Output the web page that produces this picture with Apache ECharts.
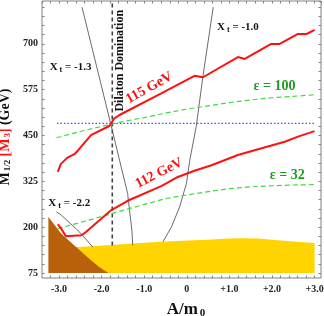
<!DOCTYPE html>
<html><head><meta charset="utf-8">
<script src="https://cdn.jsdelivr.net/npm/echarts@6/dist/echarts.min.js"></script>
<style>html,body{margin:0;padding:0;background:#fff}#c{width:324px;height:316px}</style>
</head><body><div id="c"></div>
<script>
// ---- tick labels ----
const yTickLabels = [75, 200, 325, 450, 575, 700];
const xTickValues = [-3, -2, -1, 0, 1, 2, 3];
const xTickLabels = ['-3.0', '-2.0', '-1.0', '0', '+1.0', '+2.0', '+3.0'];

// ---- Higgs mass contours (red) ----
const h115A = [-3.03,-2.96,-2.81,-2.64,-2.55,-2.25,-1.82,-1.70,-1.58,-0.60,0.18,0.38,1.20,1.36,1.98,2.18,2.61,2.81,3.0];
const h115M = [351,372,389,399,410,451,476,497,506,565,613,609,664,659,700,700,727,727,738];
const h112A = [-3.03,-2.95,-2.84,-2.48,-2.41,-1.78,-1.39,-0.60,-0.21,0.18,0.58,1.20,1.59,2.30,2.61,3.0];
const h112M = [208,196,175,178,183,246,272,312,337,354,369,397,410,433,447,462];

// ---- epsilon contours (green dashed) ----
const e100A = [-3.06,-2.5,-2,-1.5,-1,-0.5,0,0.5,1,1.5,2,2.5,3];
const e100M = [444,461,475,488,499,511,522,531,540,547,553,557,561];
const e32A = [-3.03,-2.5,-2,-1.5,-1,-0.5,0,0.5,1,1.5,2,2.5,3];
const e32M = [196,213,229,246,262,278,288,297,305,310,313,315,316];

// ---- X_t contours (thin black) ----
const xt13A = [-2.46,-1.78,-1.58,-1.39,-1.29,-1.27];
const xt13M = [800,479,383,292,192,151];
const xt10A = [0.62,0.38,0.22,0.07,-0.01,-0.17,-0.36,-0.56];
const xt10M = [800,613,474,383,319,255,201,160];
const xt22A = [-3.06,-2.95,-2.60,-2.45,-2.21];
const xt22M = [242,233,196,178,146];

// ---- dilaton domination line, blue dotted line ----
const dilA = [-1.75,-1.75];
const dilM = [150,817];
const blueA = [-3.05,3.0];
const blueM = [483,483];

// ---- excluded regions ----
const yellowA = [-2.6,-2.52,-0.61,0.18,0.5,0.97,1.3,1.67,2.14,2.5,3.0];
const yellowM = [146,146,160,164,166,169,170,169,164,161,157];
const brownA = [-3.25,-2.95,-2.6,-2.29,-2.05,-1.84];
const brownM = [228,183,146,114,91,75];

// ---- annotations (data coordinates) ----
const annXt = [
  {a:-2.73, m:636, v:'-1.3'},
  {a:1.20, m:745, v:'-1.0'},
  {a:-2.76, m:265, v:'-2.2'}
];
const annHiggs = [{a:-0.88, m:580, t:'115 GeV', rot:29}, {a:-0.65, m:347, t:'112 GeV', rot:27}];
const annEps = [{a:2.06, m:583, t:'ε = 100'}, {a:2.36, m:342, t:'ε = 32'}];
const annDil = {a:-1.58, m:654, t:'Dilaton Domination'};

function pairs(a, m){ return a.map((v,i)=>[v, m[i]]); }
const SERIF = 'Liberation Serif';

const chart = echarts.init(document.getElementById('c'), null, {renderer:'canvas'});
function ln(data, color, width, type, z){
  return {type:'line', xAxisIndex:1, yAxisIndex:1, data, symbol:'none', silent:true, z:z||3,
    lineStyle:{color, width, type:type||'solid'}};
}
function area(data, color, z){
  return {type:'line', xAxisIndex:1, yAxisIndex:1, data, symbol:'none', silent:true, z:z,
    lineStyle:{opacity:0, width:0}, areaStyle:{color, opacity:1, origin:'start'}};
}
const xFmt = v => { const i = xTickValues.findIndex(t => Math.abs(t - v) < 1e-6); return i >= 0 ? xTickLabels[i] : ''; };
const yFmt = v => yTickLabels.some(t => Math.abs(t - v) < 1e-6) ? String(Math.round(v)) : '';
const tickStyle = {inside:true, length:2.5, lineStyle:{color:'#808080', width:1}};
const noLine = {show:false, onZero:false};

chart.setOption({
  animation:false,
  grid:[
    {left:42, top:1, right:3, bottom:38, show:true, borderColor:'#808080', borderWidth:1, backgroundColor:'rgba(0,0,0,0)', outerBoundsMode:'none', containLabel:false},
    {left:42, top:1, right:3, bottom:43, outerBoundsMode:'none', containLabel:false}
  ],
  xAxis:[
    {gridIndex:0, type:'value', show:false, min:0, max:1, axisLine:noLine},
    {gridIndex:1, type:'value', position:'bottom', offset:5, min:-3.4, max:3.15, interval:0.2,
      axisLine:noLine, axisTick:tickStyle, splitLine:{show:false},
      axisLabel:{formatter:xFmt, fontFamily:SERIF, fontWeight:'bold', fontSize:10, color:'#222', margin:6, showMinLabel:false, showMaxLabel:false},
      name:'{n|A/m}{s|0}', nameLocation:'middle', nameGap:22,
      nameTextStyle:{padding:[0,0,0,9], rich:{
        n:{fontFamily:SERIF, fontWeight:'bold', fontSize:17, color:'#111'},
        s:{fontFamily:SERIF, fontWeight:'bold', fontSize:11, color:'#111', padding:[8,0,0,2]}}}},
    {gridIndex:1, type:'value', position:'top', min:-3.4, max:3.15, interval:0.2,
      axisLine:noLine, axisTick:tickStyle, splitLine:{show:false}, axisLabel:{show:false}}
  ],
  yAxis:[
    {gridIndex:0, type:'value', show:false, min:0, max:1, axisLine:noLine},
    {gridIndex:1, type:'value', position:'left', min:75, max:817, interval:25,
      axisLine:noLine, axisTick:tickStyle, splitLine:{show:false},
      axisLabel:{formatter:yFmt, fontFamily:SERIF, fontWeight:'bold', fontSize:10, color:'#222', margin:4, showMaxLabel:false},
      name:'{m|M}{s|1/2} {r|[M}{rs|3}{r|]} {m|(GeV)}', nameLocation:'middle', nameGap:24, nameRotate:90,
      nameTextStyle:{rich:{
        m:{fontFamily:SERIF, fontWeight:'bold', fontSize:14, color:'#111'},
        s:{fontFamily:SERIF, fontWeight:'bold', fontSize:9, color:'#111', padding:[5,0,0,1]},
        r:{fontFamily:SERIF, fontWeight:'bold', fontSize:14, color:'#ff1010'},
        rs:{fontFamily:SERIF, fontWeight:'bold', fontSize:9, color:'#ff1010', padding:[5,0,0,1]}}}},
    {gridIndex:1, type:'value', position:'right', min:75, max:817, interval:25,
      axisLine:noLine, axisTick:tickStyle, splitLine:{show:false}, axisLabel:{show:false}}
  ],
  series:[
    area(pairs(yellowA, yellowM), '#ffd400', 1),
    area(pairs(brownA, brownM), '#b9600b', 2),
    ln(pairs(dilA, dilM), '#444444', 1.6, [4,3], 3),
    ln(pairs(xt13A, xt13M), '#5a5a5a', 0.9, 'solid', 4),
    ln(pairs(xt10A, xt10M), '#5a5a5a', 0.9, 'solid', 4),
    ln(pairs(xt22A, xt22M), '#5a5a5a', 0.9, 'solid', 4),
    ln(pairs(blueA, blueM), '#4a4aff', 1.3, [1.5,2], 5),
    ln(pairs(e100A, e100M), '#3ddc3d', 1.2, [5,3], 5),
    ln(pairs(e32A, e32M), '#3ddc3d', 1.2, [5,3], 5),
    ln(pairs(h115A, h115M), '#ff1010', 2, 'solid', 6),
    ln(pairs(h112A, h112M), '#ff1010', 2, 'solid', 6)
  ]
});

function px(a, m){ return chart.convertToPixel({xAxisIndex:1, yAxisIndex:1}, [a, m]); }
const graphics = [];
annXt.forEach(o => {
  const p = px(o.a, o.m);
  graphics.push({type:'text', x:p[0], y:p[1], z:50, silent:true, style:{
    text:'{b|X}{s| t}{b| = ' + o.v + '}', align:'center', verticalAlign:'middle',
    rich:{b:{fontFamily:SERIF, fontWeight:'bold', fontSize:11, fill:'#111'},
          s:{fontFamily:SERIF, fontWeight:'bold', fontSize:8, fill:'#111', padding:[5,0,0,0]}}}});
});
annHiggs.forEach(o => {
  const p = px(o.a, o.m);
  graphics.push({type:'text', x:p[0], y:p[1], z:50, silent:true, rotation:o.rot*Math.PI/180, style:{
    text:o.t, align:'center', verticalAlign:'middle', fill:'#ff1010',
    font:'bold 14px ' + SERIF}});
});
annEps.forEach(o => {
  const p = px(o.a, o.m);
  graphics.push({type:'text', x:p[0], y:p[1], z:50, silent:true, style:{
    text:o.t, align:'center', verticalAlign:'middle', fill:'#1e9a1e',
    font:'bold 14px ' + SERIF}});
});
{
  const p = px(annDil.a, annDil.m);
  graphics.push({type:'text', x:p[0], y:p[1], z:50, silent:true, rotation:Math.PI/2, style:{
    text:annDil.t, align:'center', verticalAlign:'middle', fill:'#111',
    font:'bold 12px ' + SERIF}});
}
chart.setOption({graphic:graphics});
</script></body></html>
